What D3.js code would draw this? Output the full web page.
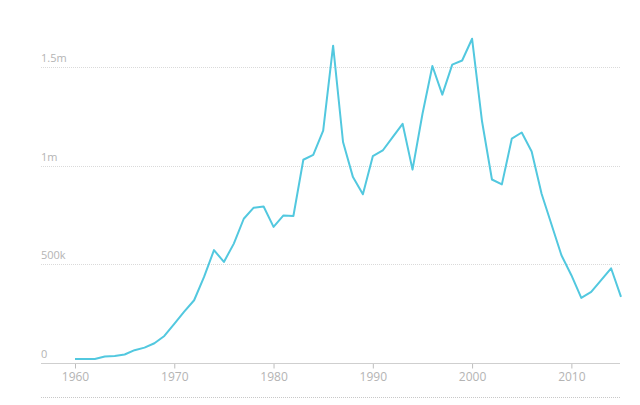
<!DOCTYPE html>
<html>
<head>
<meta charset="utf-8">
<script src="https://cdn.jsdelivr.net/npm/d3@7"></script>
<style>
  html, body { margin: 0; padding: 0; background: #fff; }
  svg { display: block; font-family: "Open Sans", "Noto Sans", sans-serif; }
</style>
</head>
<body>
<svg id="chart" width="640" height="405"></svg>
<script>
const years = d3.range(1960, 2016);
const values = [
  20000, 20000, 20000, 33000, 36000, 43000, 65000, 78000, 100000, 137000,
  198000, 260000, 318000, 436000, 572000, 512000, 605000, 731000, 787000, 793000,
  690000, 748000, 745000, 1030000, 1055000, 1178000, 1608000, 1120000, 942000, 855000,
  1048000, 1077000, 1145000, 1212000, 980000, 1262000, 1505000, 1360000, 1512000, 1533000,
  1643000, 1225000, 930000, 905000, 1137000, 1168000, 1072000, 858000, 702000, 546000,
  445000, 330000, 360000, 420000, 480000, 335000
];
const yTicks = [0, 500000, 1000000, 1500000];
const yTickLabels = ["0", "500k", "1m", "1.5m"];
const xTicks = [1960, 1970, 1980, 1990, 2000, 2010];

const svg = d3.select("#chart");
const left = 41, right = 620;
const x = d3.scaleLinear().domain([1960, 2015]).range([75, 621]);
const y = d3.scaleLinear().domain([0, 1500000]).range([363, 67]);

// gridlines + y labels
const grid = svg.append("g");
yTicks.forEach((t, i) => {
  if (t !== 0) {
    grid.append("line")
      .attr("x1", left).attr("x2", right)
      .attr("y1", Math.round(y(t)) + 0.5).attr("y2", Math.round(y(t)) + 0.5)
      .attr("stroke", "#dadada").attr("stroke-width", 1)
      .attr("stroke-dasharray", "1,1");
  }
  grid.append("text")
    .attr("x", left).attr("y", y(t) - 5)
    .attr("font-size", 11).attr("fill", "#b4b4b4")
    .text(yTickLabels[i]);
});

// x axis
const xAxis = d3.axisBottom(x).tickValues(xTicks).tickFormat(d3.format("d")).tickSize(5).tickPadding(4);
const gx = svg.append("g").attr("transform", "translate(0,363.5)").call(xAxis);
gx.select(".domain").remove();
gx.append("line").attr("x1", left).attr("x2", right).attr("y1", 0).attr("y2", 0)
  .attr("stroke", "#cfcfcf");
gx.selectAll(".tick line").attr("stroke", "#bdbdbd");
gx.selectAll(".tick text").attr("fill", "#b4b4b4").attr("font-size", 12)
  .attr("font-family", "'Open Sans', 'Noto Sans', sans-serif");

// bottom dotted rule
svg.append("line").attr("x1", left).attr("x2", right).attr("y1", 397.5).attr("y2", 397.5)
  .attr("stroke", "#c8c8c8").attr("stroke-dasharray", "1,1");

// line
const data = years.map((yr, i) => ({ yr, v: values[i] }));
svg.append("path").datum(data)
  .attr("fill", "none").attr("stroke", "#52c8df").attr("stroke-width", 2)
  .attr("stroke-linejoin", "round")
  .attr("d", d3.line().x(d => x(d.yr)).y(d => y(d.v)));
</script>
</body>
</html>
